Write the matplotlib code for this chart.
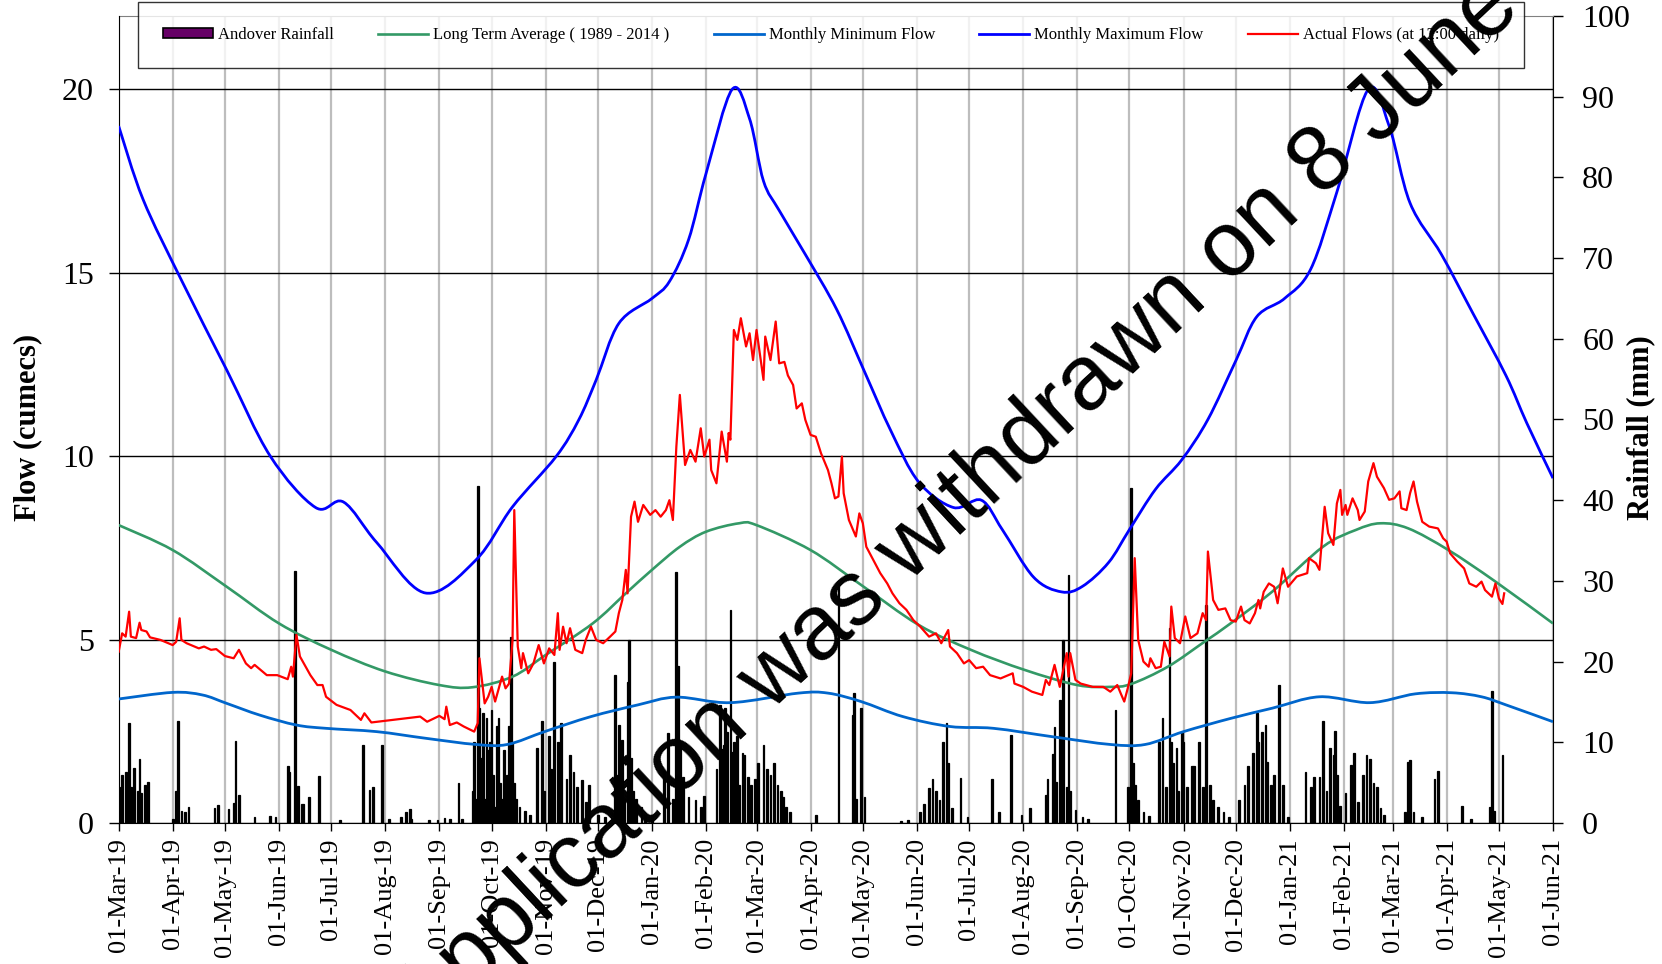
import numpy as np
import matplotlib
matplotlib.use("Agg")
import matplotlib.pyplot as plt
import matplotlib.dates as mdates
from matplotlib.path import Path
from matplotlib.patches import PathPatch, Patch
from matplotlib.lines import Line2D

# ---- data ----
start = np.datetime64('2019-03-01')
end = np.datetime64('2021-06-01')

# daily rainfall, days since 01-Mar-19 and mm
rain_days = [1, 2, 4, 6, 7, 9, 11, 12, 13, 15, 17, 31, 33, 34, 36, 38, 40, 55, 57, 63,
             66, 67, 69, 78, 87, 90, 97, 98, 101, 103, 105, 106, 109, 115, 127, 140, 144, 146, 151, 155,
             162, 165, 167, 168, 178, 183, 187, 190, 195, 197, 203, 204, 205, 206, 207, 208, 209, 210, 211, 212,
             213, 214, 215, 216, 217, 218, 219, 220, 221, 222, 223, 224, 225, 226, 227, 228, 230, 233, 236, 240,
             243, 244, 247, 248, 250, 252, 254, 257, 259, 261, 263, 266, 268, 270, 275, 279, 285, 286, 287, 288,
             289, 290, 292, 293, 294, 295, 297, 300, 302, 306, 313, 315, 318, 320, 321, 322, 324, 327, 331, 334,
             336, 343, 345, 346, 347, 348, 349, 351, 352, 353, 355, 356, 358, 359, 361, 363, 365, 367, 370, 372,
             374, 376, 378, 380, 381, 383, 385, 400, 413, 421, 422, 423, 426, 428, 449, 453, 460, 462, 465, 467,
             469, 471, 473, 475, 476, 478, 483, 487, 501, 505, 512, 518, 523, 532, 533, 536, 537, 538, 540, 542,
             544, 545, 546, 549, 553, 556, 572, 579, 581, 582, 583, 585, 588, 591, 597, 599, 601, 603, 604, 605,
             607, 608, 610, 611, 613, 616, 617, 620, 622, 624, 626, 628, 631, 634, 637, 643, 646, 648, 651, 653,
             654, 656, 658, 659, 661, 663, 666, 668, 671, 681, 684, 686, 689, 691, 693, 695, 697, 698, 699, 701,
             704, 707, 709, 711, 714, 716, 718, 720, 722, 724, 726, 738, 740, 741, 743, 748, 755, 757, 771, 776,
             787, 788, 789, 794]
rain_mm = [4.5, 6, 6.3, 12.4, 4.5, 6.8, 4, 7.9, 3.7, 4.7, 5.1, 0.5, 4, 12.6, 1.5, 1.3, 2, 1.8, 2.2, 1.7,
           2.5, 10.2, 3.5, 0.7, 0.9, 0.8, 7, 6.3, 31.2, 4.6, 2.4, 2.4, 3.2, 5.8, 0.4, 9.7, 4.1, 4.5, 9.7, 0.5,
           0.8, 1.4, 1.7, 0.5, 0.4, 0.4, 0.6, 0.5, 4.9, 0.5, 4, 10, 3, 41.7, 14.2, 8, 13.6, 3, 13, 9,
           10, 14, 6, 2, 12, 13, 5, 3, 9, 4, 6, 12, 23, 10, 5, 3, 2, 1.5, 1, 9.3,
           12.6, 4, 10.8, 6.7, 20, 10, 12.4, 5.4, 8.4, 6.3, 4.5, 5.3, 2.6, 4.7, 1, 0.8, 18.3, 6, 12.1, 4,
           10.3, 3, 17.5, 22.7, 8, 4, 3, 2, 1, 1, 6.4, 11.2, 3, 31.1, 19.4, 10, 5.7, 3.2, 2.8, 2,
           3.4, 6.7, 14.6, 9.2, 9.6, 14.2, 11.3, 26.4, 8.8, 10, 10.8, 4.7, 8.7, 8.4, 5.7, 4.7, 5.4, 7.4, 9.7, 6.7,
           6, 7.4, 4.7, 4, 3.2, 2, 1.4, 1, 29.7, 13.4, 16.1, 3, 14.2, 3.2, 0.3, 0.4, 1.4, 2.4, 4.3, 5.4,
           4, 2.8, 10, 12.4, 7.4, 1.8, 5.6, 0.8, 5.4, 1.4, 10.9, 1, 1.8, 3.5, 5.4, 8.5, 11.9, 5.1, 15.2, 22.7,
           4.5, 30.7, 4, 1.6, 0.8, 0.5, 14, 4.5, 41.5, 7.4, 4.7, 2.8, 1.3, 0.9, 10, 13, 4.5, 24.1, 10, 7.4,
           9.3, 4, 11.3, 10, 4.5, 7, 7, 10, 4.5, 27, 4.7, 2.8, 2, 1.4, 0.8, 2.8, 4.7, 7, 8.7, 13.6,
           10, 11.3, 12.2, 7.5, 4.7, 6, 17.1, 4.7, 0.8, 6.3, 4.5, 5.7, 5.7, 12.6, 4, 9.3, 8.4, 11.4, 6, 2.1,
           3.7, 7.2, 8.7, 2.6, 6, 8.4, 7.9, 4.9, 4.5, 1.8, 1, 1.4, 7.6, 7.8, 1.3, 0.8, 5.4, 6.4, 2.1, 0.5,
           2, 16.3, 1.5, 8.4]

# actual flows at 12:00, days since 01-Mar-19 and cumecs
flow_days = [0, 2, 4, 6, 7, 10, 12, 13, 16, 18, 24, 31, 33, 35, 36, 39, 46, 49, 53, 56,
             61, 66, 69, 73, 76, 78, 85, 91, 97, 99, 100, 102, 104, 110, 114, 117, 119, 125, 133, 137,
             139, 141, 145, 173, 177, 181, 184, 187, 188, 190, 194, 198, 204, 206, 207, 210, 212, 214, 216, 220,
             222, 224, 226, 227, 229, 231, 232, 235, 238, 241, 244, 247, 250, 252, 253, 255, 257, 259, 262, 266,
             268, 271, 274, 278, 282, 285, 287, 289, 291, 292, 294, 296, 298, 301, 305, 308, 311, 314, 316, 318,
             320, 322, 325, 328, 331, 334, 336, 339, 340, 343, 346, 349, 350, 351, 353, 355, 357, 360, 362, 364,
             366, 370, 371, 374, 377, 379, 382, 384, 387, 389, 392, 394, 397, 400, 403, 407, 409, 411, 413, 415,
             416, 419, 423, 425, 427, 429, 433, 437, 441, 444, 448, 452, 456, 460, 465, 469, 472, 476, 477, 481,
             485, 488, 492, 496, 500, 506, 513, 514, 519, 524, 530, 532, 534, 537, 540, 544, 545, 546, 549, 552,
             559, 565, 569, 573, 575, 577, 579, 581, 583, 585, 588, 591, 592, 595, 598, 600, 603, 604, 606, 609,
             612, 615, 619, 622, 624, 625, 628, 631, 635, 638, 641, 644, 646, 649, 652, 654, 655, 657, 660, 663,
             665, 668, 671, 676, 682, 683, 687, 689, 692, 694, 697, 699, 701, 702, 704, 705, 708, 711, 712, 715,
             717, 720, 722, 726, 729, 732, 735, 736, 739, 741, 743, 745, 748, 752, 757, 760, 762, 764, 768, 772,
             775, 779, 782, 784, 788, 790, 792, 794, 795]
flow_actual = [4.67, 5.17, 5.08, 5.76, 5.08, 5.04, 5.46, 5.26, 5.22, 5.06, 4.99, 4.85, 4.94, 5.58, 4.99, 4.90, 4.76, 4.81, 4.72, 4.74,
               4.55, 4.49, 4.72, 4.35, 4.22, 4.31, 4.03, 4.03, 3.92, 4.26, 3.99, 5.13, 4.54, 4.03, 3.76, 3.76, 3.44, 3.22, 3.08, 2.90,
               2.81, 2.99, 2.74, 2.90, 2.76, 2.85, 2.92, 2.83, 3.17, 2.67, 2.74, 2.63, 2.49, 2.72, 4.49, 3.26, 3.44, 3.71, 3.31, 3.99,
               3.67, 3.80, 4.99, 8.53, 4.81, 4.22, 4.63, 4.08, 4.35, 4.85, 4.35, 4.76, 4.58, 5.72, 4.72, 5.35, 4.90, 5.31, 4.72, 4.63,
               4.99, 5.35, 4.99, 4.90, 5.08, 5.22, 5.72, 6.08, 6.90, 6.26, 8.35, 8.76, 8.21, 8.67, 8.40, 8.53, 8.35, 8.53, 8.80, 8.26,
               10.26, 11.67, 9.76, 10.17, 9.85, 10.76, 9.99, 10.45, 9.62, 9.26, 10.67, 9.85, 10.63, 10.45, 13.44, 13.17, 13.76, 12.99, 13.35, 12.62,
               13.44, 12.08, 13.26, 12.62, 13.67, 12.53, 12.57, 12.20, 11.94, 11.30, 11.44, 10.99, 10.58, 10.53, 10.08, 9.62, 9.26, 8.85, 8.90, 9.99,
               8.99, 8.26, 7.81, 8.44, 8.17, 7.53, 7.17, 6.81, 6.53, 6.26, 5.99, 5.81, 5.53, 5.35, 5.08, 5.17, 4.90, 5.26, 4.81, 4.63,
               4.35, 4.44, 4.22, 4.26, 4.03, 3.94, 4.08, 3.80, 3.71, 3.58, 3.49, 3.90, 3.76, 4.31, 3.71, 4.63, 3.99, 4.63, 3.90, 3.80,
               3.71, 3.71, 3.58, 3.76, 3.53, 3.31, 3.67, 4.08, 7.22, 4.99, 4.40, 4.26, 4.49, 4.22, 4.26, 4.94, 4.54, 5.90, 5.04, 4.90,
               5.63, 5.04, 5.17, 5.72, 5.53, 7.40, 6.08, 5.81, 5.85, 5.53, 5.49, 5.90, 5.53, 5.44, 5.72, 6.08, 5.85, 6.30, 6.53, 6.44,
               5.99, 6.94, 6.44, 6.72, 6.81, 7.22, 7.08, 6.90, 8.62, 7.90, 7.58, 8.71, 9.08, 8.40, 8.67, 8.40, 8.85, 8.53, 8.26, 8.49,
               9.31, 9.81, 9.44, 9.13, 8.81, 8.85, 9.04, 8.58, 8.53, 8.99, 9.31, 8.76, 8.21, 8.08, 8.03, 7.76, 7.67, 7.35, 7.13, 6.94,
               6.53, 6.44, 6.58, 6.35, 6.17, 6.53, 6.12, 5.97, 6.26]

# long term average (smoothed line through these points)
avg_dates = ['2019-03-01', '2019-04-01', '2019-05-02', '2019-06-01', '2019-07-01', '2019-08-01', '2019-09-01',
             '2019-09-20', '2019-10-13', '2019-11-01', '2019-11-28', '2019-12-17', '2020-01-01', '2020-01-17',
             '2020-02-01', '2020-02-20', '2020-03-01', '2020-04-01', '2020-04-30', '2020-06-02', '2020-07-02',
             '2020-08-02', '2020-09-01', '2020-09-20', '2020-10-02', '2020-10-23', '2020-11-13', '2020-11-28',
             '2020-12-22', '2021-01-20', '2021-02-08', '2021-02-22', '2021-03-10', '2021-04-02', '2021-04-29',
             '2021-06-01']
avg_flow = [8.12, 7.44, 6.44, 5.44, 4.72, 4.13, 3.76, 3.70, 3.99, 4.58, 5.44, 6.26, 6.90, 7.53,
            7.94, 8.17, 8.12, 7.44, 6.49, 5.40, 4.72, 4.17, 3.76, 3.71, 3.79, 4.26, 4.94, 5.44,
            6.31, 7.53, 7.99, 8.17, 8.03, 7.44, 6.58, 5.44]

# monthly minimum flow
min_dates = ['2019-03-01', '2019-04-01', '2019-04-18', '2019-05-02', '2019-05-21', '2019-06-11', '2019-06-28',
             '2019-07-27', '2019-08-24', '2019-09-22', '2019-10-10', '2019-11-01', '2019-11-27', '2019-12-24',
             '2020-01-15', '2020-02-15', '2020-03-25', '2020-04-11', '2020-04-30', '2020-05-24', '2020-06-20',
             '2020-07-15', '2020-08-18', '2020-09-20', '2020-10-10', '2020-11-01', '2020-11-28', '2020-12-22',
             '2021-01-18', '2021-02-16', '2021-03-14', '2021-04-04', '2021-04-21', '2021-05-05', '2021-06-01']
min_flow = [3.38, 3.56, 3.49, 3.26, 2.94, 2.67, 2.58, 2.49, 2.31, 2.14, 2.14, 2.50, 2.90, 3.22,
            3.43, 3.28, 3.54, 3.54, 3.31, 2.90, 2.63, 2.58, 2.35, 2.14, 2.14, 2.49, 2.85, 3.13,
            3.44, 3.28, 3.52, 3.55, 3.44, 3.22, 2.76]

# monthly maximum flow
max_dates = ['2019-03-01', '2019-03-15', '2019-04-06', '2019-05-02', '2019-05-27', '2019-06-22', '2019-07-08',
             '2019-07-27', '2019-08-24', '2019-09-22', '2019-10-13', '2019-11-07', '2019-11-20', '2019-11-30',
             '2019-12-13', '2020-01-01', '2020-01-11', '2020-01-22', '2020-02-01', '2020-02-16', '2020-02-26',
             '2020-03-05', '2020-03-14', '2020-03-29', '2020-04-16', '2020-05-02', '2020-05-17', '2020-06-02',
             '2020-06-22', '2020-07-08', '2020-07-20', '2020-08-07', '2020-08-23', '2020-09-04', '2020-09-19',
             '2020-10-01', '2020-10-16', '2020-10-31', '2020-11-15', '2020-12-01', '2020-12-13', '2020-12-29',
             '2021-01-13', '2021-01-28', '2021-02-15', '2021-02-27', '2021-03-11', '2021-03-29', '2021-04-16',
             '2021-05-05', '2021-05-17', '2021-06-01']
max_flow = [19.0, 17.0, 14.8, 12.35, 10.0, 8.6, 8.75, 7.65, 6.27, 7.17, 8.62, 9.99, 10.99, 12.08,
            13.62, 14.3, 14.76, 15.9, 17.7, 20.0, 19.2, 17.5, 16.7, 15.5, 14.0, 12.3, 10.7, 9.3,
            8.6, 8.8, 8.0, 6.7, 6.3, 6.45, 7.1, 8.0, 9.1, 9.9, 11.0, 12.6, 13.8, 14.3,
            15.1, 17.2, 20.0, 19.0, 16.9, 15.5, 13.9, 12.2, 10.9, 9.4]

labels = ['Andover Rainfall', 'Long Term Average ( 1989 - 2014 )', 'Monthly Minimum Flow',
          'Monthly Maximum Flow', 'Actual Flows (at 12:00 daily)']


# Excel-style smoothed line: bezier segments through the points
def smooth_path(dates, vals):
    xs = mdates.date2num(np.array(dates, dtype='datetime64[D]'))
    ys = np.asarray(vals, dtype=float)
    n = len(xs)
    verts = [(xs[0], ys[0])]
    codes = [Path.MOVETO]
    for i in range(n - 1):
        a = max(i - 1, 0)
        b = min(i + 2, n - 1)
        c1 = (xs[i] + (xs[i + 1] - xs[a]) / 6, ys[i] + (ys[i + 1] - ys[a]) / 6)
        c2 = (xs[i + 1] - (xs[b] - xs[i]) / 6, ys[i + 1] - (ys[b] - ys[i]) / 6)
        verts += [c1, c2, (xs[i + 1], ys[i + 1])]
        codes += [Path.CURVE4] * 3
    return Path(verts, codes)


plt.rcParams['font.family'] = ['Liberation Serif', 'DejaVu Serif']

fig = plt.figure(figsize=(16.62, 9.64), dpi=100)
ax_rain = fig.add_axes([0.0714, 0.1463, 0.863, 0.8371])
ax_flow = ax_rain.twinx()

# rainfall bars (right axis, drawn underneath)
rain_x = start + np.array(rain_days).astype('timedelta64[D]')
ax_rain.bar(rain_x, rain_mm, width=1.0, color='black', edgecolor='black', linewidth=0.9, zorder=2)
ax_rain.set_ylim(0, 100)
ax_rain.set_yticks(np.arange(0, 101, 10))
ax_rain.yaxis.tick_right()
ax_rain.yaxis.set_label_position('right')
ax_rain.set_ylabel('Rainfall (mm)', fontsize=22, fontweight='bold')
ax_rain.yaxis.set_label_coords(1.051, 0.49)

ax_rain.set_xlim(start, end)
ax_rain.xaxis.set_major_locator(mdates.MonthLocator(bymonthday=1))
ax_rain.xaxis.set_major_formatter(mdates.DateFormatter('%d-%b-%y'))
ax_rain.tick_params(axis='x', labelsize=19, rotation=90, direction='out', length=6, width=1, pad=5)
ax_rain.tick_params(axis='y', labelsize=23, direction='out', length=7, width=1, pad=14)
ax_rain.grid(axis='x', color='#bdbdbd', linewidth=1.6)
ax_rain.set_axisbelow(True)

# flows (left axis, on top)
ax_flow.yaxis.tick_left()
ax_flow.yaxis.set_label_position('left')
ax_flow.set_ylim(0, 22)
ax_flow.set_yticks([0, 5, 10, 15, 20])
ax_flow.tick_params(axis='y', labelsize=23, direction='out', length=7, width=1, pad=11)
ax_flow.set_ylabel('Flow (cumecs)', fontsize=22, fontweight='bold')
ax_flow.yaxis.set_label_coords(-0.053, 0.49)
ax_flow.grid(axis='y', color='black', linewidth=1.0)

ax_flow.add_patch(PathPatch(smooth_path(avg_dates, avg_flow), fill=False, edgecolor='#339966', lw=1.9, zorder=3))
ax_flow.add_patch(PathPatch(smooth_path(min_dates, min_flow), fill=False, edgecolor='#0066CC', lw=2.0, zorder=3))
ax_flow.add_patch(PathPatch(smooth_path(max_dates, max_flow), fill=False, edgecolor='#0000FF', lw=2.0, zorder=3))
flow_x = start + np.array(flow_days).astype('timedelta64[D]')
ax_flow.plot(flow_x, flow_actual, color='#FF0000', lw=1.6, zorder=4)

for s in ['top', 'right', 'bottom']:
    ax_flow.spines[s].set_visible(False)
ax_flow.spines['left'].set_color('black')
ax_rain.spines['left'].set_visible(False)
ax_rain.spines['top'].set_color('#808080')
ax_rain.spines['right'].set_color('black')
ax_rain.spines['bottom'].set_color('black')

handles = [Patch(facecolor='#660066', edgecolor='black', linewidth=1.2),
           Line2D([], [], color='#339966', lw=1.9),
           Line2D([], [], color='#0066CC', lw=2.0),
           Line2D([], [], color='#0000FF', lw=2.0),
           Line2D([], [], color='#FF0000', lw=1.6)]
leg = fig.legend(handles, labels, loc='upper left', ncol=5, mode='expand',
                 bbox_to_anchor=(138 / 1662, 1 - 3 / 964, 1386 / 1662, 0.001),
                 fontsize=12, frameon=True, fancybox=False, borderpad=1.5,
                 handlelength=3.0, handleheight=0.5, handletextpad=0.3, borderaxespad=0)
leg.get_frame().set_edgecolor('black')
leg.get_frame().set_linewidth(1.0)

# watermark across the chart
fig.text(424 / 1662, 1 - 1035 / 964, 'Application was withdrawn on 8 June 2021',
         fontsize=66, family='Liberation Sans', color='black', rotation=43,
         rotation_mode='anchor', ha='left', va='baseline', zorder=10)

fig.savefig('out.png', dpi=100)
